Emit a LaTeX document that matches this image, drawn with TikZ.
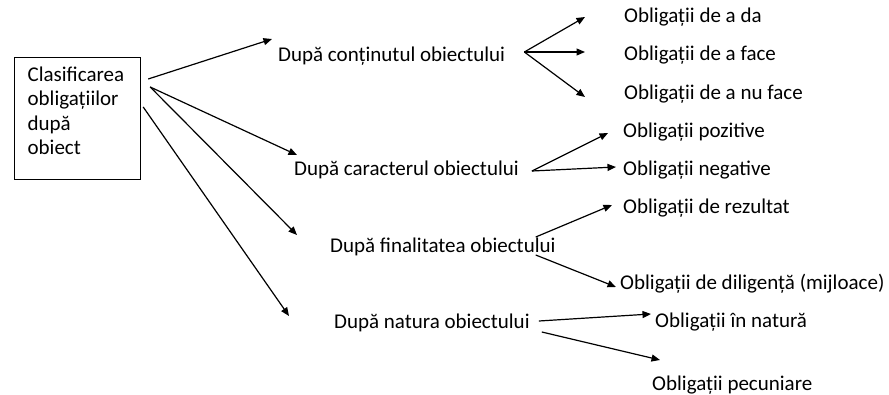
\documentclass[tikz,border=0pt]{standalone}
\usepackage{fontspec}
\setmainfont{Carlito}
\usetikzlibrary{arrows.meta}

\begin{document}
\begin{tikzpicture}[x=1pt, y=-1pt,
    txt/.style = {anchor=west, inner sep=0pt, font=\fontsize{21}{24.5}\selectfont},
    arr/.style = {line width=1.2pt, -{Triangle[length=8.5pt,width=7pt]}}]
\useasboundingbox (0,0) rectangle (889,394);

   % box on the left
   \node [draw, line width=1.2pt, anchor=north west, inner xsep=13pt, inner ysep=9pt,
          minimum width=126pt, text width=100pt, align=left,
          font=\fontsize{21}{24.5}\selectfont] (root) at (14,57)
          {\baselineskip=24.5pt Clasificarea\\obligațiilor\\după\\obiect\rule[-16pt]{0pt}{0pt}};

   % the four criteria
   \node [txt] (cont)   at (278,56)  {După conținutul obiectului};
   \node [txt] (caract) at (294,170) {După caracterul obiectului};
   \node [txt] (final)  at (330,247) {După finalitatea obiectului};
   \node [txt] (nat)    at (334,323) {După natura obiectului};

   % kinds of obligations
   \node [txt] (dare)   at (624,17)  {Obligații de a da};
   \node [txt] (face)   at (624,55)  {Obligații de a face};
   \node [txt] (nuface) at (624,94)  {Obligații de a nu face};
   \node [txt] (poz)    at (623,132) {Obligații pozitive};
   \node [txt] (neg)    at (623,170) {Obligații negative};
   \node [txt] (rez)    at (623,208) {Obligații de rezultat};
   \node [txt] (dil)    at (620,284) {Obligații de diligență (mijloace)};
   \node [txt] (innat)  at (655,322) {Obligații în natură};
   \node [txt] (pecun)  at (652,385) {Obligații pecuniare};

   % from the box
   \coordinate (fork) at ([shift={(9,30)}]root.north east);
   \draw [arr] ([shift={(7,22)}]root.north east) -- ([shift={(-6,-17)}]cont.west);
   \draw [arr] (fork) -- ([shift={(3,-15)}]caract.west);
   \draw [arr] (fork) -- ([shift={(-33,-12)}]final.west);
   \draw [arr] ([shift={(2,50)}]root.north east) -- ([shift={(-45,-7)}]nat.west);

   % continut
   \coordinate (c1) at ([shift={(19,-4)}]cont.east);
   \draw [arr] (c1) -- ([shift={(-39,0)}]dare.west);
   \draw [arr] (c1) -- ([shift={(-39,-3)}]face.west);
   \draw [arr] (c1) -- ([shift={(-39,3)}]nuface.west);

   % caracter
   \coordinate (c2) at ([shift={(13,1)}]caract.east);
   \draw [arr] (c2) -- ([shift={(-15,1)}]poz.west);
   \draw [arr] (c2) -- ([shift={(-7,-3)}]neg.west);

   % finalitate
   \draw [arr] ([shift={(-20,-10)}]final.east) -- ([shift={(-11,-3)}]rez.west);
   \draw [arr] ([shift={(-20,8)}]final.east) -- ([shift={(-4,3)}]dil.west);

   % natura
   \draw [arr] ([shift={(9,-2)}]nat.east) -- ([shift={(-4,-8)}]innat.west);
   \draw [arr] ([shift={(12,9)}]nat.east) -- ([shift={(8,-25)}]pecun.west);
\end{tikzpicture}
\end{document}
